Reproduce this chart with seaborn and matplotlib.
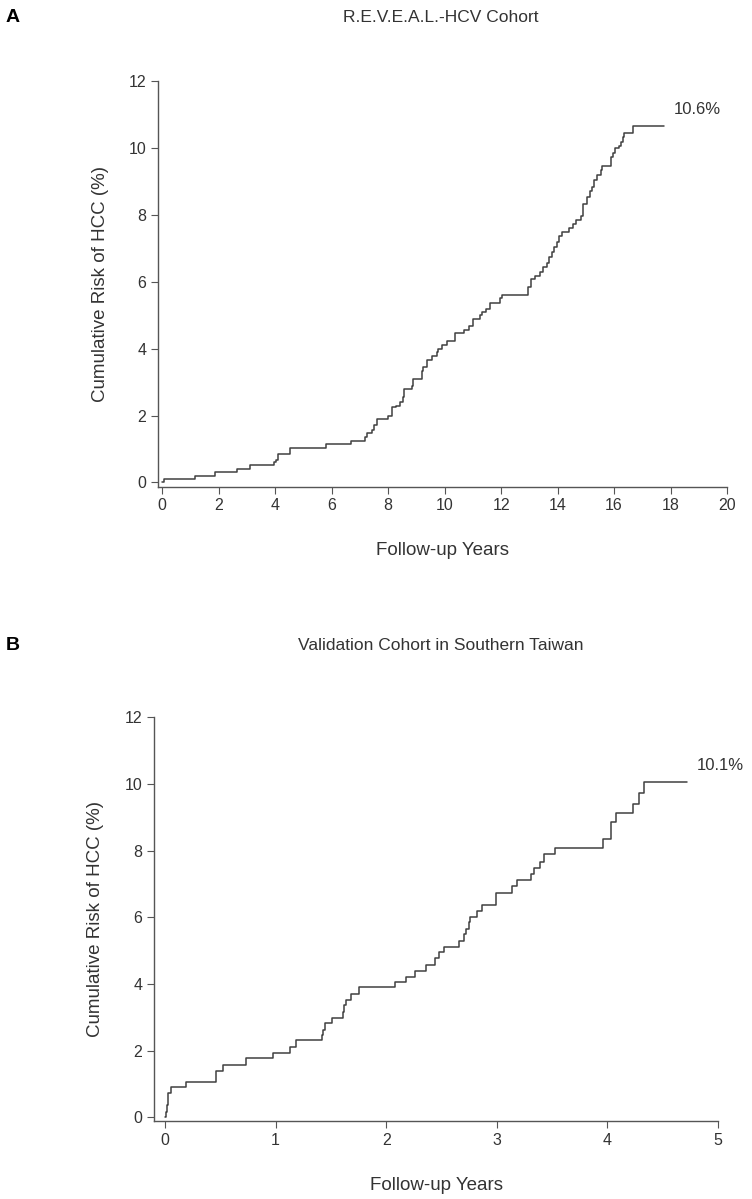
import matplotlib
matplotlib.use("Agg")
import matplotlib.pyplot as plt
import seaborn as sns
import pandas as pd

# ---------------- data ----------------
a_title = "R.E.V.E.A.L.-HCV Cohort"
a_time = [0, 0.05, 1.16, 1.87, 2.66, 3.11, 3.96, 4.03, 4.11, 4.53,
          5.79, 6.68, 7.19, 7.25, 7.42, 7.50, 7.62, 7.98, 8.13, 8.28,
          8.42, 8.51, 8.57, 8.83, 8.89, 9.19, 9.25, 9.37, 9.55, 9.72,
          9.78, 9.90, 10.10, 10.37, 10.67, 10.85, 11.00, 11.24, 11.32, 11.48,
          11.62, 11.95, 12.03, 12.95, 13.06, 13.21, 13.39, 13.49, 13.63, 13.69,
          13.81, 13.87, 13.99, 14.05, 14.17, 14.40, 14.56, 14.64, 14.82, 14.91,
          15.05, 15.15, 15.23, 15.29, 15.41, 15.53, 15.59, 15.90, 15.97, 16.05,
          16.17, 16.23, 16.32, 16.35, 16.68, 17.77]
a_risk = [0, 0.09, 0.19, 0.30, 0.40, 0.51, 0.61, 0.68, 0.84, 1.03,
          1.16, 1.25, 1.36, 1.48, 1.56, 1.72, 1.91, 2.00, 2.25, 2.30,
          2.40, 2.55, 2.78, 2.87, 3.10, 3.33, 3.45, 3.65, 3.77, 3.90,
          4.00, 4.12, 4.23, 4.47, 4.55, 4.67, 4.90, 5.00, 5.10, 5.20,
          5.37, 5.50, 5.60, 5.85, 6.07, 6.17, 6.30, 6.45, 6.55, 6.75,
          6.90, 7.05, 7.20, 7.37, 7.49, 7.60, 7.72, 7.86, 7.96, 8.32,
          8.54, 8.72, 8.84, 9.04, 9.19, 9.34, 9.46, 9.72, 9.86, 9.99,
          10.06, 10.19, 10.32, 10.46, 10.66, 10.66]
a_final = "10.6%"
a_xticks = list(range(0, 21, 2))

b_title = "Validation Cohort in Southern Taiwan"
b_time = [0, 0.006, 0.015, 0.03, 0.05, 0.19, 0.46, 0.52, 0.73, 0.98,
          1.13, 1.18, 1.42, 1.43, 1.45, 1.51, 1.61, 1.62, 1.64, 1.68,
          1.75, 2.08, 2.18, 2.26, 2.36, 2.44, 2.48, 2.52, 2.66, 2.70,
          2.72, 2.75, 2.76, 2.82, 2.87, 2.99, 3.14, 3.18, 3.31, 3.34,
          3.39, 3.43, 3.53, 3.96, 4.03, 4.08, 4.23, 4.29, 4.33, 4.72]
b_risk = [0, 0.17, 0.37, 0.72, 0.90, 1.07, 1.40, 1.57, 1.77, 1.93,
          2.11, 2.31, 2.46, 2.63, 2.83, 2.99, 3.16, 3.36, 3.53, 3.70,
          3.90, 4.05, 4.22, 4.40, 4.58, 4.78, 4.95, 5.12, 5.30, 5.50,
          5.65, 5.85, 6.01, 6.19, 6.37, 6.74, 6.94, 7.11, 7.29, 7.47,
          7.67, 7.89, 8.08, 8.35, 8.86, 9.13, 9.40, 9.73, 10.07, 10.07]
b_final = "10.1%"
b_xticks = list(range(0, 6))

y_ticks = list(range(0, 13, 2))
x_label = "Follow-up Years"
y_label = "Cumulative Risk of HCC (%)"

# ---------------- style ----------------
sns.set_style("ticks")
plt.rcParams["font.family"] = ["Liberation Sans", "DejaVu Sans"]
TXT = "#333333"
LINE = "#404040"
plt.rcParams.update({
    "axes.edgecolor": "#555555",
    "axes.linewidth": 1.0,
    "xtick.color": "#555555",
    "ytick.color": "#555555",
    "xtick.labelcolor": TXT,
    "ytick.labelcolor": TXT,
    "xtick.major.size": 5,
    "ytick.major.size": 5,
    "xtick.labelsize": 11.5,
    "ytick.labelsize": 11.5,
})

W, H = 752, 1199
fig = plt.figure(figsize=(W / 100, H / 100), dpi=100)


def px_axes(left, right, top, bottom):
    return fig.add_axes([left / W, 1 - bottom / H, (right - left) / W, (bottom - top) / H])


def panel(ax, t, r, xticks, xlim, ylim, final, ypad):
    df = pd.DataFrame({"t": t, "r": r})
    sns.lineplot(data=df, x="t", y="r", ax=ax, estimator=None, sort=False,
                 drawstyle="steps-post", color=LINE, linewidth=1.1)
    ax.set_xlim(*xlim)
    ax.set_ylim(*ylim)
    ax.set_xticks(xticks)
    ax.set_yticks(y_ticks)
    ax.set_xlabel(x_label, fontsize=13.5, color=TXT, labelpad=21)
    ax.set_ylabel(y_label, fontsize=13.5, color=TXT, labelpad=ypad)
    sns.despine(ax=ax)
    ax.annotate(final, xy=(t[-1], r[-1]), xytext=(7, 6), textcoords="offset points",
                fontsize=12, color=TXT, ha="left", va="bottom")


# Panel A
axA = px_axes(158, 727, 81, 486.5)
panel(axA, a_time, a_risk, a_xticks, (-0.15, 20), (-0.12, 12), a_final, 14)
fig.text(441 / W, 1 - 18 / H, a_title, ha="center", va="center", fontsize=12.5, color=TXT)
fig.text(6 / W, 1 - 18 / H, "A", ha="left", va="center", fontsize=14, fontweight="bold", color="black")

# Panel B
axB = px_axes(154, 718, 717.3, 1121)
panel(axB, b_time, b_risk, b_xticks, (-0.10, 5), (-0.105, 12), b_final, 15)
fig.text(441 / W, 1 - 645 / H, b_title, ha="center", va="center", fontsize=12.5, color=TXT)
fig.text(6 / W, 1 - 645 / H, "B", ha="left", va="center", fontsize=14, fontweight="bold", color="black")

fig.savefig("out.png", dpi=100)
